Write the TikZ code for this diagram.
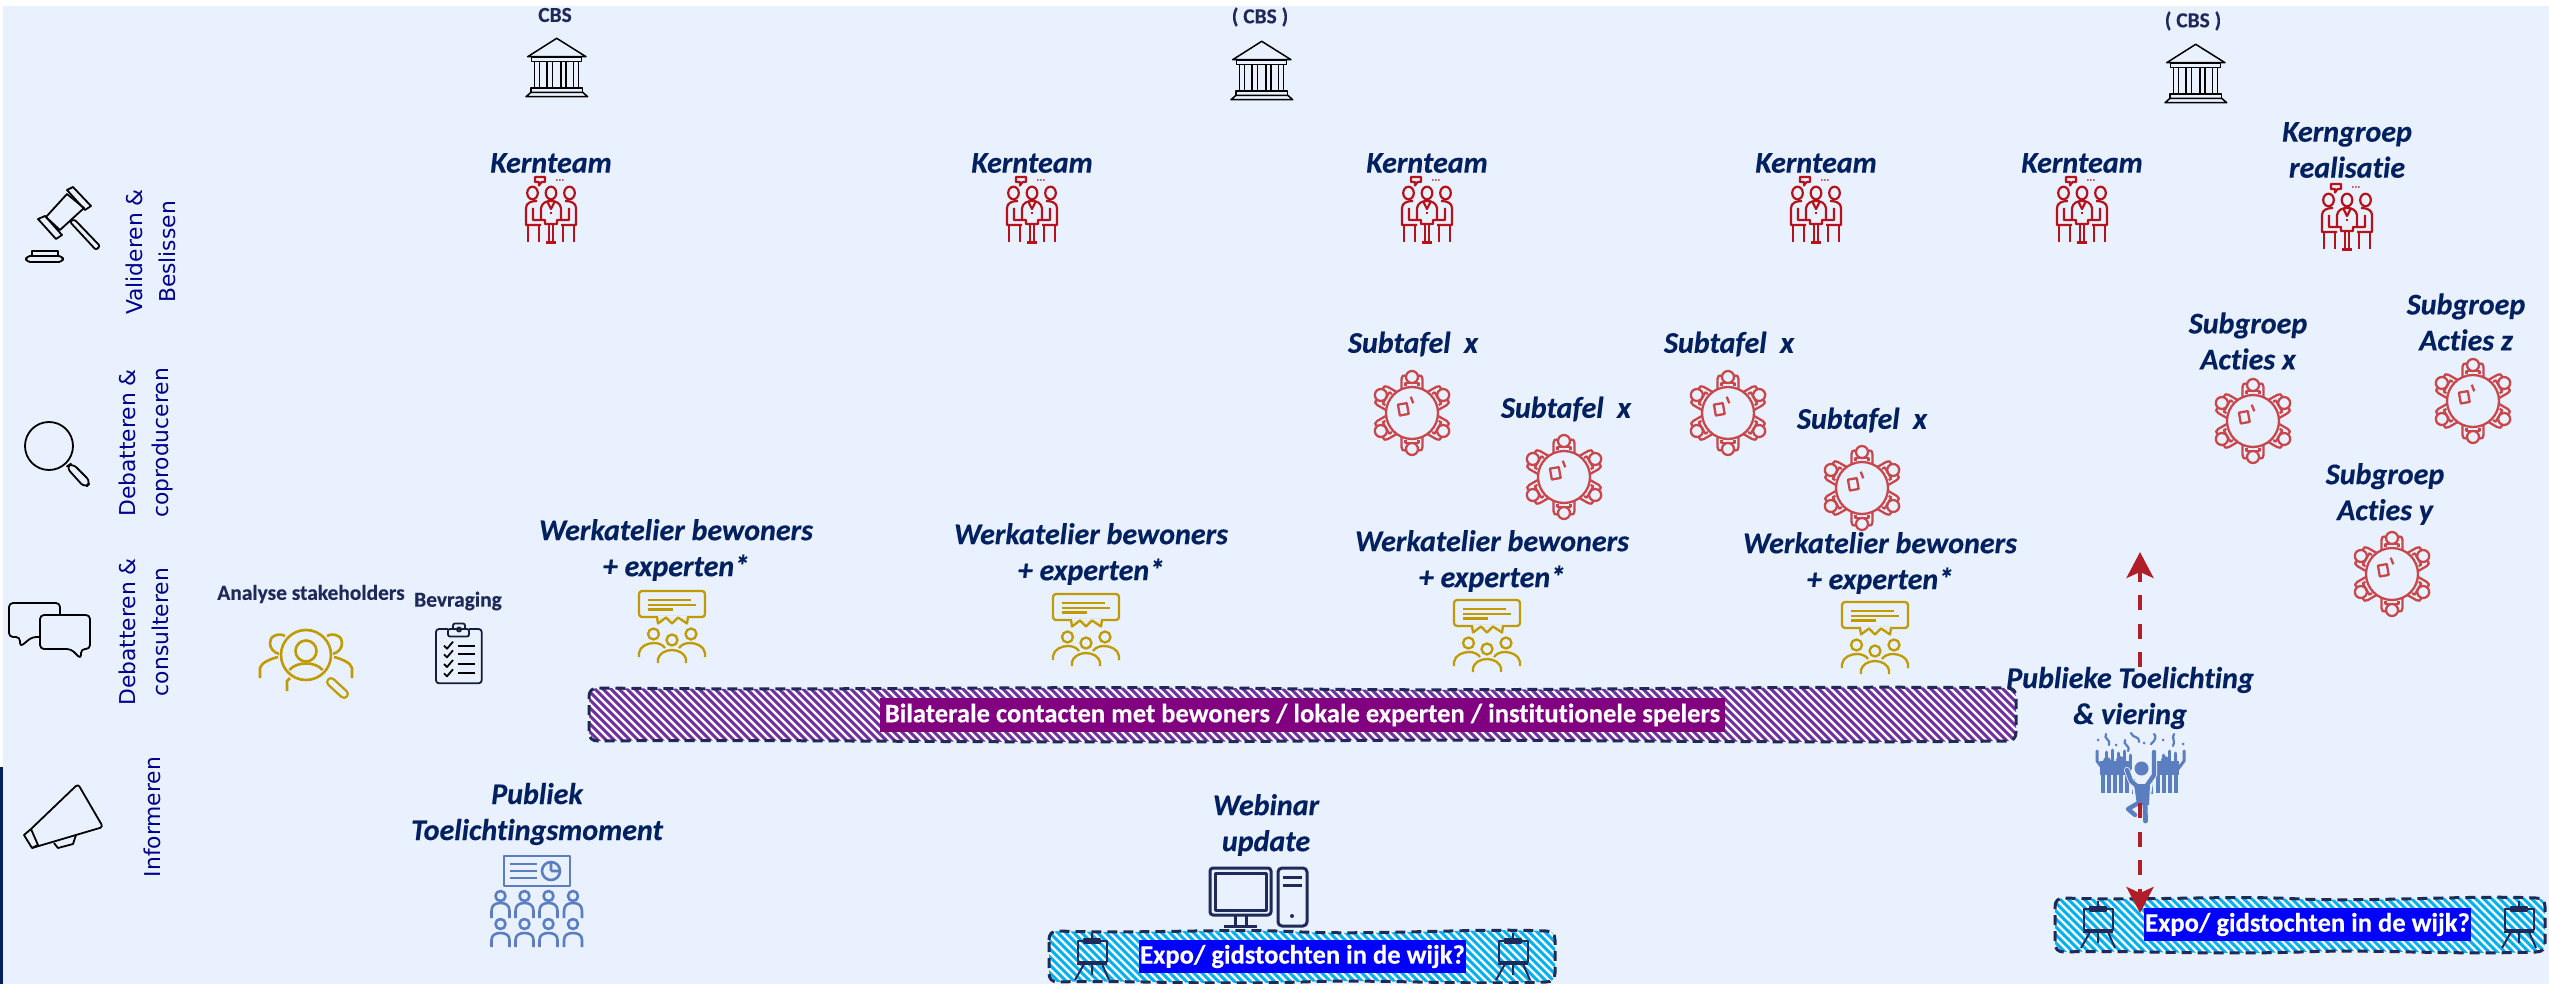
\documentclass[tikz,border=0pt]{standalone}
\usepackage{fontspec}
\setmainfont{Carlito}[Ligatures=NoCommon,BoldItalicFeatures={FakeBold=0.4},BoldFeatures={FakeBold=0.3}]
\newfontfamily\vfont{DejaVu Sans}
\usetikzlibrary{arrows.meta}
\definecolor{bgc}{HTML}{E9F1FE}
\definecolor{navy}{HTML}{002060}
\definecolor{ink}{HTML}{1F2A5A}
\definecolor{lab}{HTML}{00008B}
\definecolor{redk}{HTML}{B5121B}
\definecolor{redt}{HTML}{C8474C}
\definecolor{gold}{HTML}{BF9B00}
\definecolor{blueic}{HTML}{5B7EC0}
\definecolor{arrowred}{HTML}{B01E28}
\definecolor{purp}{HTML}{7030A0}
\definecolor{cyan2}{HTML}{00B0F0}
\definecolor{mag}{HTML}{800080}
\tikzset{
  x=0.5pt,y=-0.5pt,
  lbl/.style={font=\bfseries\itshape\fontsize{15}{18}\selectfont,text=navy,align=center,inner sep=0pt},
  small/.style={font=\bfseries\fontsize{10.7}{13}\selectfont,text=ink,align=center,inner sep=0pt},
  side/.style={font=\vfont\fontsize{10.9}{16.5}\selectfont,text=lab,align=center,inner sep=0pt,rotate=90},
  hl/.style={font=\bfseries\fontsize{13.3}{15}\selectfont,text=white,inner sep=0pt,align=center},
  bandedge/.style={draw=ink,line width=1.5pt,dash pattern=on 5pt off 3pt},
  flow/.style={draw=arrowred,line width=2pt,dash pattern=on 7.5pt off 6.75pt,-{Stealth[length=13pt,width=13.5pt,inset=3pt]}},
  bankic/.pic={
    \begin{scope}[black,line width=.75pt,line join=round]
    \draw (46.7,62.7) -- (75.7,44.3) -- (105,62.7) -- cycle;
    \draw (50.7,63.3) rectangle (100.7,67.3);
    \foreach \c in {53.3,58.7,66,71.7,80,85,92.7,97.7} \draw (\c,67.3) -- (\c,94);
    \draw (50,94) rectangle (101.7,98.3);
    \draw (45,102.7) -- (50,98.3) -- (101.7,98.3) -- (106.7,102.7) -- cycle;
    \end{scope}},
  teamic/.pic={
    \begin{scope}[redk,line width=1.1pt,line join=round]
    \draw (16,7) -- (26,7) -- (26,12) -- (22.5,12) -- (20,15.5) -- (20,12) -- (16,12) -- cycle;
    \fill (37,9.4) rectangle (38.6,10.6) (40,9.4) rectangle (41.6,10.6) (43,9.4) rectangle (44.6,10.6);
    \foreach \c in {13.5,32,50.5} \draw (\c,23) ellipse [x radius=5.3,y radius=6.3];
    \draw (22,50) -- (22,38) .. controls (23,33) and (27,31) .. (32,31) .. controls (37,31) and (41,33) .. (42,38) -- (42,50);
    \draw (28,31) -- (32,39) -- (36,31);
    \fill (31,42) rectangle (33,44);
    \foreach \m in {1,-1} {
      \begin{scope}[shift={(32,0)},xscale=\m]
      \draw (-14,31) .. controls (-20,31) and (-25,33) .. (-25,38) -- (-25,55) -- (-10,55) (-18,38) -- (-18,50) -- (-6,50) -- (-6,54) -- (0,54);
      \draw (-23,55) -- (-23,72.5) (-12,55) -- (-12,72.5);
      \draw (-2,54) -- (-2,72.5);
      \draw (-5,72.5) -- (0,72.5);
      \end{scope}}
    \end{scope}},
  tableic/.pic={
    \begin{scope}[redt,line width=1.15pt,line join=round]
    \draw (47,48) circle [radius=26];
    \foreach \a in {0,60,120,180,240,300} {
      \begin{scope}[shift={(47,48)},rotate=\a]
      \draw (0,-36) circle [radius=6];
      \draw (-10.5,-24) -- (-10.5,-34) .. controls (-10.5,-37) and (-9,-38) .. (-6.5,-37.5) (10.5,-24) -- (10.5,-34) .. controls (10.5,-37) and (9,-38) .. (6.5,-37.5);
      \draw (-6.5,-27) -- (-6.5,-30) -- (6.5,-30) -- (6.5,-27);
      \end{scope}}
    \draw[rotate around={10:(38.3,44.3)}] (33.8,38.8) rectangle (42.8,49.8);
    \draw (45.7,31.7) -- (48.3,38.3);
    \end{scope}},
  speechic/.pic={
    \begin{scope}[gold,line width=1.15pt,line join=round]
    \draw[rounded corners=1.5pt] (0,1) rectangle (66,27);
    \draw[bgc,line width=1.4pt] (19,27) -- (48,27);
    \draw (18,27) -- (19,33.5) -- (27,27.5) -- (33,33.5) -- (39,27.5) -- (48,33.5) -- (49,27);
    \draw (9,10) -- (52,10) (9,15) -- (57,15) (9,19.5) -- (34,19.5);
    \draw (14.5,44) circle [radius=5.5] (33,50) circle [radius=5.5] (52,44) circle [radius=5.5];
    \draw (0,67) -- (0,63) .. controls (1,56) and (9,53) .. (15,53) .. controls (20,53) and (24,55) .. (26,58);
    \draw (66,67) -- (66,63) .. controls (65,56) and (57,53) .. (51,53) .. controls (46,53) and (42,55) .. (40,58);
    \draw (19,73) -- (19,69) .. controls (20,64) and (26,60) .. (33,60) .. controls (40,60) and (46,64) .. (47,69) -- (47,73);
    \end{scope}},
  easelic/.pic={
    \begin{scope}[ink,line width=1pt,line join=round]
    \draw (0,-9) -- (0,-2);
    \draw (-8,-3) rectangle (8,1);
    \draw (-14,-1) rectangle (15,20);
    \draw (-15,21.5) -- (15,21.5);
    \draw (-8,22) -- (-17,38) (10,22) -- (17,38) (0,22) -- (0,33);
    \end{scope}},
  partyic/.pic={
    \begin{scope}[blueic]
    \begin{scope}[line width=1.5pt,line cap=round,line join=round]
    \draw (12,26) -- (12,36) -- (18,44);
    \draw (99,26) -- (99,36) -- (93,44);
    \foreach \xa/\ya in {21/27,27/25,33/28,39/26,45/30,78/30,84/26,90/28} \draw (\xa,\ya) -- (\xa,44);
    \end{scope}
    \begin{scope}[line width=2.3pt]
    \foreach \xa in {18,24,30,36,42,73,79,85,91} \draw (\xa,42) -- (\xa,68);
    \end{scope}
    \fill (15,36) rectangle (46,50);
    \fill (71,36) rectangle (94,50);
    \foreach \xa/\ya in {22/36,35/35,80/35} \fill (\xa,\ya) circle [radius=4];
    \foreach \xa in {48,66} \draw[line width=1.5pt] (\xa,54) -- (\xa,69);
    % central figure: halo then solid
    \begin{scope}[line cap=round,line join=round]
    \draw[bgc,line width=3pt] (42,45) -- (46,56) -- (53,62) (69,27) -- (69,50) -- (60,63);
    \fill[bgc] (46,58) -- (68,58) -- (64,82) -- (51,82) -- cycle;
    \draw[line width=2.2pt] (42,45) -- (46,56) -- (53,62);
    \draw[line width=2.2pt] (69,27) -- (69,50) -- (60,63);
    \fill[bgc] (56.5,43.5) circle [radius=9];
    \fill (56.5,43.5) circle [radius=7];
    \fill (49,59) -- (65,59) -- (64,80) -- (52,80) -- cycle;
    \draw[line width=2.4pt] (60,78) -- (60.5,96);
    \draw[line width=2.2pt] (55,77) -- (43,84) -- (50,90);
    \end{scope}
    \foreach \a/\b in {13/15,31/20,59/18,78/15,88/13,98/19} \fill (\a,\b) circle [radius=1.5];
    \begin{scope}[line width=1.1pt,line cap=round]
    \draw (21,9) .. controls (18,14) and (26,14) .. (24,20);
    \draw (40,15) .. controls (37,20) and (46,20) .. (43,26);
    \draw (46,8) .. controls (48,14) and (54,10) .. (54,17);
    \draw (69,9) .. controls (72,11) and (70,16) .. (66,19);
    \draw (89,9) .. controls (86,14) and (91,15) .. (88,21);
    \end{scope}
    \end{scope}},
  audienceic/.pic={
    \begin{scope}[blueic,line width=1.3pt,line join=round]
    \draw (504,856) rectangle (570,886);
    \draw (510,864) -- (537,864) (510,871) -- (537,871) (510,878) -- (537,878);
    \draw (551,871) circle [radius=9] (551,871) -- (551,862) (551,871) -- (560,871);
    \foreach \c in {500.5,524.5,548.5,573} {
      \draw (\c,896) ellipse [x radius=5,y radius=5];
      \draw (\c-9,918) -- (\c-9,911) .. controls (\c-9,905) and (\c-5,903) .. (\c,903) .. controls (\c+5,903) and (\c+9,905) .. (\c+9,911) -- (\c+9,918);
      \draw (\c,924) ellipse [x radius=5,y radius=5];
      \draw (\c-9,947) -- (\c-9,940) .. controls (\c-9,935) and (\c-5,933) .. (\c,933) .. controls (\c+5,933) and (\c+9,935) .. (\c+9,940) -- (\c+9,947);
    }
    \end{scope}}
}
\newcommand\wband[5]{%
  \def\wbpath{(#1,#2+9) .. controls (#1,#2+3) and (#1+3,#2) .. (#1+9,#2)
    .. controls ({#1+0.2*(#3-#1)},{#2+3}) and ({#1+0.35*(#3-#1)},{#2-3}) .. ({#1+0.5*(#3-#1)},{#2+1})
    .. controls ({#1+0.65*(#3-#1)},{#2+4}) and ({#1+0.85*(#3-#1)},{#2-3}) .. (#3-9,#2)
    .. controls (#3-3,#2) and (#3,#2+3) .. (#3,#2+9)
    -- (#3,#4-9) .. controls (#3,#4-3) and (#3-3,#4) .. (#3-9,#4)
    .. controls ({#1+0.8*(#3-#1)},{#4+3}) and ({#1+0.65*(#3-#1)},{#4-3}) .. ({#1+0.5*(#3-#1)},{#4})
    .. controls ({#1+0.3*(#3-#1)},{#4+3}) and ({#1+0.15*(#3-#1)},{#4-2}) .. (#1+9,#4)
    .. controls (#1+3,#4) and (#1,#4-3) .. (#1,#4-9) -- cycle}%
  \begin{scope}
    \clip \wbpath;
    \fill[white] (#1-5,#2-5) rectangle (#3+5,#4+5);
    \pgfmathsetmacro{\sa}{#1-(#4-#2)-12}
    \pgfmathsetmacro{\sb}{\sa+8}
    \pgfmathsetmacro{\se}{#3+8}
    \foreach \s in {\sa,\sb,...,\se} \draw[#5,line width=1.5pt] (\s,#2-6) -- ({\s+#4-#2+12},#4+6);
  \end{scope}
  \path[bandedge] \wbpath;%
}
\begin{document}
\begin{tikzpicture}
\useasboundingbox (0,0) rectangle (2549,984);
\fill[white] (0,0) rectangle (2549,984);
\fill[bgc] (3,6) rectangle (2549,984);
\fill[navy] (0,767) rectangle (3,984);

% side labels
\node[side] (sVal) at (151,252) {Valideren \&\\Beslissen};
\node[side] (sCop) at (146,443) {Debatteren \&\\coproduceren};
\node[side] (sCon) at (144,632) {Debatteren \&\\consulteren};
\node[side] (sInf) at (152,817) {Informeren};

% gavel
\begin{scope}[black,line width=.9pt,line join=round]
\draw (46,217) -- (67,194) -- (84,208) -- (60,230) -- cycle;
\draw (67,190) -- (73,187) -- (91,206) -- (85,210) -- cycle;
\draw (38,219) -- (45,216) -- (62,235) -- (56,239) -- cycle;
\draw[rounded corners=1pt] (70,222) -- (74,219) -- (100,246) -- (96,250) -- cycle;
\draw (32,256) -- (32,251) -- (58,251) -- (58,256);
\draw[rounded corners=2pt] (26,256) rectangle (63,262);
% magnifier
\draw (49,446) circle [radius=24];
\draw[rounded corners=3pt] (66,467) -- (72,463) -- (91,482) -- (85,488) -- cycle;
% bubbles
\draw[rounded corners=2pt] (40,637) -- (32,637) -- (20,647) -- (20,637) -- (9,637) -- (9,603) -- (60,603) -- (60,615);
\draw[rounded corners=2pt,fill=bgc] (40,615) -- (90,615) -- (90,649) -- (81,649) -- (81,659) -- (71,649) -- (40,649) -- cycle;
% megaphone
\draw[rounded corners=1.5pt] (31,829) -- (78,784) -- (103,827) -- (32,848);
\draw (31,829) -- (24,835) -- (32,848) -- (38,845) -- (31,829);
\draw (54,843) -- (58,848) -- (73,844) -- (76,835);
\end{scope}

% banks and their labels
\node[small] (cbsA) at (555,15) {CBS};
\node[small] (cbsB) at (1260,17) {( CBS )};
\node[small] (cbsC) at (2193,21) {( CBS )};
\pic at (481,-6) {bankic};
\pic at (1186,-3) {bankic};
\pic at (2120,0) {bankic};

% core teams
\foreach \n/\cx in {a/551,b/1032,c/1427,d/1816,e/2082}{
  \node[lbl] (kern\n) at (\cx,163) {Kernteam};
  \pic at (\cx-32,170) {teamic};
}
\node[lbl] (kernr) at (2347,150) {Kerngroep\\realisatie};
\pic at (2315,177) {teamic};

% sub tables
\node[lbl] (subA) at (1413,344) {Subtafel~ x};
\node[lbl] (subB) at (1566,409) {Subtafel~ x};
\node[lbl] (subC) at (1729,344) {Subtafel~ x};
\node[lbl] (subD) at (1862,420) {Subtafel~ x};
\pic at (1365,365) {tableic};
\pic at (1517,429) {tableic};
\pic at (1681,365) {tableic};
\pic at (1815,440) {tableic};
\node[lbl] (grpX) at (2248,341) {Subgroep\\Acties x};
\node[lbl] (grpZ) at (2466,322) {Subgroep\\Acties z};
\node[lbl] (grpY) at (2385,494) {Subgroep\\Acties y};
\pic at (2206,373) {tableic};
\pic at (2426,353) {tableic};
\pic at (2345,526) {tableic};

% workshops
\node[lbl] (wkA) at (676,550) {Werkatelier bewoners\\+ experten*};
\node[lbl] (wkB) at (1091,554) {Werkatelier bewoners\\+ experten*};
\node[lbl] (wkC) at (1492,561) {Werkatelier bewoners\\+ experten*};
\node[lbl] (wkD) at (1880,563) {Werkatelier bewoners\\+ experten*};
\pic at (639,590) {speechic};
\pic at (1053,593) {speechic};
\pic at (1454,599) {speechic};
\pic at (1842,601) {speechic};

% analysis
\node[small] (ana) at (311,594) {Analyse stakeholders};
\node[small] (bev) at (458,601) {Bevraging};
\begin{scope}[shift={(250,620)}]
\begin{scope}[gold,line width=1.3pt,line cap=butt]
\draw (56,35) ellipse [x radius=25,y radius=25];
\draw (56,31) circle [radius=10.5];
\draw (39.3,50) .. controls (44,45) and (50,43.5) .. (56,43.5) .. controls (62,43.5) and (68,45) .. (72.7,50);
\draw (35,16) .. controls (28,12) and (19,17) .. (20,23) .. controls (20,28) and (23,32) .. (29,34);
\draw (77,16) .. controls (84,12) and (93,17) .. (92,23) .. controls (92,28) and (89,32) .. (83,34);
\draw (10,58) -- (10,48) .. controls (11,43) and (20,39) .. (28,37);
\draw (102,58) -- (102,48) .. controls (101,43) and (92,39) .. (84,37);
\draw (37,71) -- (37,61) -- (40,58);
\draw[line width=5pt,line cap=round] (81,62) -- (94,74);
\draw[bgc,line width=2.6pt,line cap=round] (81,62) -- (94,74);
\end{scope}
\begin{scope}[ink!70!black,line width=.9pt,line join=round]
\draw[rounded corners=1.5pt] (198,9) -- (186,9) -- (186,63.3) -- (231.7,63.3) -- (231.7,9) -- (219,9);
\draw[rounded corners=1pt] (198,16.5) rectangle (219,9) (198,9) (203,9) -- (203,3.5) -- (215,3.5) -- (215,9);
\draw (209,9.5) circle [radius=2];
\foreach \yy in {25.7,34.3,44,53.3} {
  \draw[black,line width=1.1pt] (208,\yy) -- (225,\yy);
  \draw[black] (194,\yy) -- (197,\yy+3) -- (203,\yy-4);
}
\end{scope}
\end{scope}

% bands
\wband{589}{688}{2016}{741}{purp}
\wband{1049}{931}{1555}{982}{cyan2}
\wband{2055}{898}{2545}{952}{cyan2}
\node[hl,fill=mag,minimum width=845pt/2,minimum height=17pt] (bil) at (1302.5,715) {Bilaterale contacten met bewoners / lokale experten / institutionele spelers};
\node[hl,fill=blue,minimum width=163.5pt,minimum height=16.5pt] (expoA) at (1302.5,956.5) {Expo/ gidstochten in de wijk?};
\node[hl,fill=blue,minimum width=163.5pt,minimum height=16.5pt] (expoB) at (2307.5,924.5) {Expo/ gidstochten in de wijk?};
\pic at (1092,942) {easelic};
\pic at (1513,942) {easelic};
\pic at (2098,910) {easelic};
\pic at (2519,910) {easelic};

% inform row
\node[lbl] (pub) at (537,814) {Publiek\\Toelichtingsmoment};
\pic at (0,0) {audienceic};
\node[lbl] (web) at (1266,825) {Webinar\\update};
\begin{scope}[ink,line width=1.5pt,line join=round]
\draw[rounded corners=1.5pt] (1210,868) rectangle (1271,915);
\draw (1215,873) rectangle (1266,910);
\draw (1235,915) -- (1235,926) (1246,915) -- (1246,926);
\draw (1224,926.5) -- (1257,926.5);
\draw[rounded corners=2pt] (1278,868) rectangle (1307,926);
\draw (1283,877) -- (1302,877) (1283,885) -- (1302,885);
\fill (1292,916) circle [radius=2];
\end{scope}

% celebration
\node[lbl] (cele) at (2130,698) {Publieke Toelichting\\\& viering};
\pic at (2085,725) {partyic};
\coordinate (upS) at (2140,667);
\coordinate (upT) at (2140,552);
\coordinate (dnS) at (2140,803);
\coordinate (dnT) at (2140,913);
\draw[flow] (upS) -- (upT);
\draw[flow] (dnS) -- (dnT);
\end{tikzpicture}
\end{document}
